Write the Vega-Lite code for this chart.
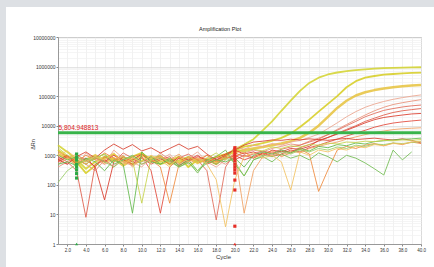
{
"$schema": "https://vega.github.io/schema/vega-lite/v6.json",
"background": "white",
"padding": 0,
"bounds": "flush",
"spacing": 0,
"config": {"view": {"stroke": null}, "font": "Liberation Sans", "axis": {"labelOverlap": false}},
"datasets": {
"curves": [
{"s":"A","c":1,"v":2200},{"s":"A","c":2,"v":1300},{"s":"A","c":3,"v":700},{"s":"A","c":4,"v":350},{"s":"A","c":5,"v":600},{"s":"A","c":6,"v":900},{"s":"A","c":7,"v":700},{"s":"A","c":8,"v":800},{"s":"A","c":9,"v":500},{"s":"A","c":10,"v":650},{"s":"A","c":11,"v":900},{"s":"A","c":12,"v":600},{"s":"A","c":13,"v":750},{"s":"A","c":14,"v":550},{"s":"A","c":15,"v":800},{"s":"A","c":16,"v":600},{"s":"A","c":17,"v":700},{"s":"A","c":18,"v":500},{"s":"A","c":19,"v":900},{"s":"A","c":20,"v":1600},{"s":"A","c":21,"v":2300},{"s":"A","c":22,"v":3500},{"s":"A","c":23,"v":7000},{"s":"A","c":24,"v":14000},{"s":"A","c":25,"v":32000},{"s":"A","c":26,"v":70000},{"s":"A","c":27,"v":150000},{"s":"A","c":28,"v":280000},{"s":"A","c":29,"v":420000},{"s":"A","c":30,"v":540000},{"s":"A","c":31,"v":630000},{"s":"A","c":32,"v":700000},{"s":"A","c":33,"v":760000},{"s":"A","c":34,"v":810000},{"s":"A","c":35,"v":850000},{"s":"A","c":36,"v":880000},{"s":"A","c":37,"v":900000},{"s":"A","c":38,"v":920000},{"s":"A","c":39,"v":935000},{"s":"A","c":40,"v":950000},
{"s":"B","c":1,"v":1500},{"s":"B","c":2,"v":900},{"s":"B","c":3,"v":600},{"s":"B","c":4,"v":250},{"s":"B","c":5,"v":450},{"s":"B","c":6,"v":800},{"s":"B","c":7,"v":1100},{"s":"B","c":8,"v":600},{"s":"B","c":9,"v":900},{"s":"B","c":10,"v":1200},{"s":"B","c":11,"v":700},{"s":"B","c":12,"v":500},{"s":"B","c":13,"v":650},{"s":"B","c":14,"v":900},{"s":"B","c":15,"v":400},{"s":"B","c":16,"v":700},{"s":"B","c":17,"v":600},{"s":"B","c":18,"v":900},{"s":"B","c":19,"v":1100},{"s":"B","c":20,"v":1500},{"s":"B","c":21,"v":1950},{"s":"B","c":22,"v":2200},{"s":"B","c":23,"v":2600},{"s":"B","c":24,"v":3100},{"s":"B","c":25,"v":3900},{"s":"B","c":26,"v":5400},{"s":"B","c":27,"v":9000},{"s":"B","c":28,"v":16000},{"s":"B","c":29,"v":30000},{"s":"B","c":30,"v":55000},{"s":"B","c":31,"v":100000},{"s":"B","c":32,"v":200000},{"s":"B","c":33,"v":320000},{"s":"B","c":34,"v":420000},{"s":"B","c":35,"v":480000},{"s":"B","c":36,"v":530000},{"s":"B","c":37,"v":560000},{"s":"B","c":38,"v":590000},{"s":"B","c":39,"v":610000},{"s":"B","c":40,"v":620000},
{"s":"C","c":1,"v":1100},{"s":"C","c":2,"v":800},{"s":"C","c":3,"v":500},{"s":"C","c":4,"v":700},{"s":"C","c":5,"v":1000},{"s":"C","c":6,"v":600},{"s":"C","c":7,"v":800},{"s":"C","c":8,"v":450},{"s":"C","c":9,"v":700},{"s":"C","c":10,"v":1000},{"s":"C","c":11,"v":750},{"s":"C","c":12,"v":900},{"s":"C","c":13,"v":500},{"s":"C","c":14,"v":650},{"s":"C","c":15,"v":850},{"s":"C","c":16,"v":550},{"s":"C","c":17,"v":750},{"s":"C","c":18,"v":600},{"s":"C","c":19,"v":1000},{"s":"C","c":20,"v":1300},{"s":"C","c":21,"v":1500},{"s":"C","c":22,"v":1700},{"s":"C","c":23,"v":1900},{"s":"C","c":24,"v":2200},{"s":"C","c":25,"v":2500},{"s":"C","c":26,"v":3000},{"s":"C","c":27,"v":3900},{"s":"C","c":28,"v":5800},{"s":"C","c":29,"v":10000},{"s":"C","c":30,"v":20000},{"s":"C","c":31,"v":40000},{"s":"C","c":32,"v":70000},{"s":"C","c":33,"v":105000},{"s":"C","c":34,"v":135000},{"s":"C","c":35,"v":160000},{"s":"C","c":36,"v":180000},{"s":"C","c":37,"v":200000},{"s":"C","c":38,"v":215000},{"s":"C","c":39,"v":230000},{"s":"C","c":40,"v":240000},
{"s":"D","c":1,"v":600},{"s":"D","c":2,"v":900},{"s":"D","c":3,"v":400},{"s":"D","c":4,"v":1200},{"s":"D","c":5,"v":700},{"s":"D","c":6,"v":500},{"s":"D","c":7,"v":1500},{"s":"D","c":8,"v":800},{"s":"D","c":9,"v":600},{"s":"D","c":10,"v":400},{"s":"D","c":11,"v":900},{"s":"D","c":12,"v":700},{"s":"D","c":13,"v":1100},{"s":"D","c":14,"v":500},{"s":"D","c":15,"v":800},{"s":"D","c":16,"v":1300},{"s":"D","c":17,"v":600},{"s":"D","c":18,"v":400},{"s":"D","c":19,"v":700},{"s":"D","c":20,"v":2000},{"s":"D","c":21,"v":1600},{"s":"D","c":22,"v":2200},{"s":"D","c":23,"v":2000},{"s":"D","c":24,"v":2500},{"s":"D","c":25,"v":2200},{"s":"D","c":26,"v":2800},{"s":"D","c":27,"v":3200},{"s":"D","c":28,"v":4000},{"s":"D","c":29,"v":5200},{"s":"D","c":30,"v":8000},{"s":"D","c":31,"v":12500},{"s":"D","c":32,"v":20000},{"s":"D","c":33,"v":30000},{"s":"D","c":34,"v":42000},{"s":"D","c":35,"v":54000},{"s":"D","c":36,"v":66000},{"s":"D","c":37,"v":78000},{"s":"D","c":38,"v":89000},{"s":"D","c":39,"v":100000},{"s":"D","c":40,"v":110000},
{"s":"E5","c":1,"v":400},{"s":"E5","c":2,"v":600},{"s":"E5","c":3,"v":900},{"s":"E5","c":4,"v":500},{"s":"E5","c":5,"v":300},{"s":"E5","c":6,"v":700},{"s":"E5","c":7,"v":1000},{"s":"E5","c":8,"v":600},{"s":"E5","c":9,"v":450},{"s":"E5","c":10,"v":800},{"s":"E5","c":11,"v":550},{"s":"E5","c":12,"v":1200},{"s":"E5","c":13,"v":700},{"s":"E5","c":14,"v":400},{"s":"E5","c":15,"v":900},{"s":"E5","c":16,"v":600},{"s":"E5","c":17,"v":1000},{"s":"E5","c":18,"v":700},{"s":"E5","c":19,"v":500},{"s":"E5","c":20,"v":900},{"s":"E5","c":21,"v":1200},{"s":"E5","c":22,"v":1500},{"s":"E5","c":23,"v":1300},{"s":"E5","c":24,"v":1700},{"s":"E5","c":25,"v":2000},{"s":"E5","c":26,"v":2400},{"s":"E5","c":27,"v":2200},{"s":"E5","c":28,"v":3000},{"s":"E5","c":29,"v":3800},{"s":"E5","c":30,"v":5000},{"s":"E5","c":31,"v":7500},{"s":"E5","c":32,"v":11000},{"s":"E5","c":33,"v":16000},{"s":"E5","c":34,"v":23000},{"s":"E5","c":35,"v":32000},{"s":"E5","c":36,"v":42000},{"s":"E5","c":37,"v":52000},{"s":"E5","c":38,"v":60000},{"s":"E5","c":39,"v":68000},{"s":"E5","c":40,"v":76000},
{"s":"E1","c":1,"v":800},{"s":"E1","c":2,"v":500},{"s":"E1","c":3,"v":1000},{"s":"E1","c":4,"v":700},{"s":"E1","c":5,"v":400},{"s":"E1","c":6,"v":900},{"s":"E1","c":7,"v":600},{"s":"E1","c":8,"v":1200},{"s":"E1","c":9,"v":800},{"s":"E1","c":10,"v":500},{"s":"E1","c":11,"v":700},{"s":"E1","c":12,"v":1000},{"s":"E1","c":13,"v":600},{"s":"E1","c":14,"v":800},{"s":"E1","c":15,"v":1100},{"s":"E1","c":16,"v":700},{"s":"E1","c":17,"v":300},{"s":"E1","c":18,"v":6.5},{"s":"E1","c":19,"v":400},{"s":"E1","c":20,"v":1200},{"s":"E1","c":21,"v":900},{"s":"E1","c":22,"v":1100},{"s":"E1","c":23,"v":1400},{"s":"E1","c":24,"v":1200},{"s":"E1","c":25,"v":1600},{"s":"E1","c":26,"v":1900},{"s":"E1","c":27,"v":2200},{"s":"E1","c":28,"v":2800},{"s":"E1","c":29,"v":3500},{"s":"E1","c":30,"v":5000},{"s":"E1","c":31,"v":7000},{"s":"E1","c":32,"v":10000},{"s":"E1","c":33,"v":14000},{"s":"E1","c":34,"v":20000},{"s":"E1","c":35,"v":26000},{"s":"E1","c":36,"v":33000},{"s":"E1","c":37,"v":38000},{"s":"E1","c":38,"v":43000},{"s":"E1","c":39,"v":47000},{"s":"E1","c":40,"v":50000},
{"s":"E6","c":1,"v":900},{"s":"E6","c":2,"v":600},{"s":"E6","c":3,"v":300},{"s":"E6","c":4,"v":8},{"s":"E6","c":5,"v":500},{"s":"E6","c":6,"v":700},{"s":"E6","c":7,"v":400},{"s":"E6","c":8,"v":900},{"s":"E6","c":9,"v":600},{"s":"E6","c":10,"v":800},{"s":"E6","c":11,"v":500},{"s":"E6","c":12,"v":700},{"s":"E6","c":13,"v":900},{"s":"E6","c":14,"v":450},{"s":"E6","c":15,"v":650},{"s":"E6","c":16,"v":800},{"s":"E6","c":17,"v":500},{"s":"E6","c":18,"v":700},{"s":"E6","c":19,"v":900},{"s":"E6","c":20,"v":700},{"s":"E6","c":21,"v":1000},{"s":"E6","c":22,"v":800},{"s":"E6","c":23,"v":1200},{"s":"E6","c":24,"v":1000},{"s":"E6","c":25,"v":1400},{"s":"E6","c":26,"v":1300},{"s":"E6","c":27,"v":1800},{"s":"E6","c":28,"v":2300},{"s":"E6","c":29,"v":3000},{"s":"E6","c":30,"v":4000},{"s":"E6","c":31,"v":5500},{"s":"E6","c":32,"v":7500},{"s":"E6","c":33,"v":10000},{"s":"E6","c":34,"v":14000},{"s":"E6","c":35,"v":18000},{"s":"E6","c":36,"v":23000},{"s":"E6","c":37,"v":28000},{"s":"E6","c":38,"v":32000},{"s":"E6","c":39,"v":35000},{"s":"E6","c":40,"v":38000},
{"s":"E2","c":1,"v":700},{"s":"E2","c":2,"v":1000},{"s":"E2","c":3,"v":500},{"s":"E2","c":4,"v":800},{"s":"E2","c":5,"v":400},{"s":"E2","c":6,"v":31},{"s":"E2","c":7,"v":600},{"s":"E2","c":8,"v":900},{"s":"E2","c":9,"v":700},{"s":"E2","c":10,"v":1100},{"s":"E2","c":11,"v":600},{"s":"E2","c":12,"v":800},{"s":"E2","c":13,"v":500},{"s":"E2","c":14,"v":900},{"s":"E2","c":15,"v":700},{"s":"E2","c":16,"v":1000},{"s":"E2","c":17,"v":600},{"s":"E2","c":18,"v":800},{"s":"E2","c":19,"v":1100},{"s":"E2","c":20,"v":1500},{"s":"E2","c":21,"v":1100},{"s":"E2","c":22,"v":1300},{"s":"E2","c":23,"v":1000},{"s":"E2","c":24,"v":1500},{"s":"E2","c":25,"v":1300},{"s":"E2","c":26,"v":1700},{"s":"E2","c":27,"v":1600},{"s":"E2","c":28,"v":2000},{"s":"E2","c":29,"v":3200},{"s":"E2","c":30,"v":4000},{"s":"E2","c":31,"v":5200},{"s":"E2","c":32,"v":7000},{"s":"E2","c":33,"v":9300},{"s":"E2","c":34,"v":12500},{"s":"E2","c":35,"v":16000},{"s":"E2","c":36,"v":19000},{"s":"E2","c":37,"v":21000},{"s":"E2","c":38,"v":23000},{"s":"E2","c":39,"v":25000},{"s":"E2","c":40,"v":26000},
{"s":"E3","c":1,"v":600},{"s":"E3","c":2,"v":900},{"s":"E3","c":3,"v":700},{"s":"E3","c":4,"v":500},{"s":"E3","c":5,"v":800},{"s":"E3","c":6,"v":600},{"s":"E3","c":7,"v":1000},{"s":"E3","c":8,"v":700},{"s":"E3","c":9,"v":500},{"s":"E3","c":10,"v":900},{"s":"E3","c":11,"v":300},{"s":"E3","c":12,"v":11},{"s":"E3","c":13,"v":400},{"s":"E3","c":14,"v":800},{"s":"E3","c":15,"v":600},{"s":"E3","c":16,"v":900},{"s":"E3","c":17,"v":700},{"s":"E3","c":18,"v":500},{"s":"E3","c":19,"v":800},{"s":"E3","c":20,"v":1000},{"s":"E3","c":21,"v":700},{"s":"E3","c":22,"v":900},{"s":"E3","c":23,"v":1200},{"s":"E3","c":24,"v":900},{"s":"E3","c":25,"v":1100},{"s":"E3","c":26,"v":1500},{"s":"E3","c":27,"v":1300},{"s":"E3","c":28,"v":1800},{"s":"E3","c":29,"v":2200},{"s":"E3","c":30,"v":2800},{"s":"E3","c":31,"v":3500},{"s":"E3","c":32,"v":4500},{"s":"E3","c":33,"v":5600},{"s":"E3","c":34,"v":7000},{"s":"E3","c":35,"v":8900},{"s":"E3","c":36,"v":10700},{"s":"E3","c":37,"v":12300},{"s":"E3","c":38,"v":13500},{"s":"E3","c":39,"v":14500},{"s":"E3","c":40,"v":15500},
{"s":"E4","c":1,"v":500},{"s":"E4","c":2,"v":800},{"s":"E4","c":3,"v":1100},{"s":"E4","c":4,"v":600},{"s":"E4","c":5,"v":900},{"s":"E4","c":6,"v":500},{"s":"E4","c":7,"v":700},{"s":"E4","c":8,"v":1000},{"s":"E4","c":9,"v":400},{"s":"E4","c":10,"v":800},{"s":"E4","c":11,"v":600},{"s":"E4","c":12,"v":900},{"s":"E4","c":13,"v":700},{"s":"E4","c":14,"v":1100},{"s":"E4","c":15,"v":500},{"s":"E4","c":16,"v":800},{"s":"E4","c":17,"v":600},{"s":"E4","c":18,"v":900},{"s":"E4","c":19,"v":700},{"s":"E4","c":20,"v":1200},{"s":"E4","c":21,"v":11},{"s":"E4","c":22,"v":300},{"s":"E4","c":23,"v":900},{"s":"E4","c":24,"v":1200},{"s":"E4","c":25,"v":1000},{"s":"E4","c":26,"v":1400},{"s":"E4","c":27,"v":1200},{"s":"E4","c":28,"v":1700},{"s":"E4","c":29,"v":2000},{"s":"E4","c":30,"v":2400},{"s":"E4","c":31,"v":2800},{"s":"E4","c":32,"v":3500},{"s":"E4","c":33,"v":4200},{"s":"E4","c":34,"v":5000},{"s":"E4","c":35,"v":5900},{"s":"E4","c":36,"v":6600},{"s":"E4","c":37,"v":7400},{"s":"E4","c":38,"v":7900},{"s":"E4","c":39,"v":8200},{"s":"E4","c":40,"v":8500},
{"s":"F","c":1,"v":700},{"s":"F","c":2,"v":500},{"s":"F","c":3,"v":900},{"s":"F","c":4,"v":1300},{"s":"F","c":5,"v":800},{"s":"F","c":6,"v":1500},{"s":"F","c":7,"v":2400},{"s":"F","c":8,"v":1600},{"s":"F","c":9,"v":2300},{"s":"F","c":10,"v":1400},{"s":"F","c":11,"v":1800},{"s":"F","c":12,"v":1200},{"s":"F","c":13,"v":1700},{"s":"F","c":14,"v":2400},{"s":"F","c":15,"v":1600},{"s":"F","c":16,"v":2000},{"s":"F","c":17,"v":1100},{"s":"F","c":18,"v":700},{"s":"F","c":19,"v":1000},{"s":"F","c":20,"v":1500},{"s":"F","c":21,"v":2200},{"s":"F","c":22,"v":2800},{"s":"F","c":23,"v":3000},{"s":"F","c":24,"v":3300},{"s":"F","c":25,"v":3200},{"s":"F","c":26,"v":3500},{"s":"F","c":27,"v":3300},{"s":"F","c":28,"v":3600},{"s":"F","c":29,"v":3400},{"s":"F","c":30,"v":3200},{"s":"F","c":31,"v":3500},{"s":"F","c":32,"v":3700},{"s":"F","c":33,"v":3400},{"s":"F","c":34,"v":3600},{"s":"F","c":35,"v":3800},{"s":"F","c":36,"v":3500},{"s":"F","c":37,"v":3300},{"s":"F","c":38,"v":3600},{"s":"F","c":39,"v":3200},{"s":"F","c":40,"v":2600},
{"s":"H","c":1,"v":1300},{"s":"H","c":2,"v":900},{"s":"H","c":3,"v":600},{"s":"H","c":4,"v":1000},{"s":"H","c":5,"v":700},{"s":"H","c":6,"v":1200},{"s":"H","c":7,"v":800},{"s":"H","c":8,"v":500},{"s":"H","c":9,"v":900},{"s":"H","c":10,"v":1100},{"s":"H","c":11,"v":700},{"s":"H","c":12,"v":400},{"s":"H","c":13,"v":24},{"s":"H","c":14,"v":500},{"s":"H","c":15,"v":900},{"s":"H","c":16,"v":700},{"s":"H","c":17,"v":1000},{"s":"H","c":18,"v":600},{"s":"H","c":19,"v":800},{"s":"H","c":20,"v":900},{"s":"H","c":21,"v":1300},{"s":"H","c":22,"v":800},{"s":"H","c":23,"v":1100},{"s":"H","c":24,"v":1400},{"s":"H","c":25,"v":900},{"s":"H","c":26,"v":1200},{"s":"H","c":27,"v":1600},{"s":"H","c":28,"v":1100},{"s":"H","c":29,"v":60},{"s":"H","c":30,"v":320},{"s":"H","c":31,"v":1500},{"s":"H","c":32,"v":2000},{"s":"H","c":33,"v":1700},{"s":"H","c":34,"v":2200},{"s":"H","c":35,"v":2500},{"s":"H","c":36,"v":2100},{"s":"H","c":37,"v":2600},{"s":"H","c":38,"v":2300},{"s":"H","c":39,"v":2800},{"s":"H","c":40,"v":2500},
{"s":"G1","c":1,"v":500},{"s":"G1","c":2,"v":600},{"s":"G1","c":3,"v":450},{"s":"G1","c":4,"v":800},{"s":"G1","c":5,"v":600},{"s":"G1","c":6,"v":300},{"s":"G1","c":7,"v":700},{"s":"G1","c":8,"v":500},{"s":"G1","c":9,"v":11},{"s":"G1","c":10,"v":1300},{"s":"G1","c":11,"v":600},{"s":"G1","c":12,"v":500},{"s":"G1","c":13,"v":800},{"s":"G1","c":14,"v":450},{"s":"G1","c":15,"v":700},{"s":"G1","c":16,"v":300},{"s":"G1","c":17,"v":550},{"s":"G1","c":18,"v":700},{"s":"G1","c":19,"v":600},{"s":"G1","c":20,"v":800},{"s":"G1","c":21,"v":400},{"s":"G1","c":22,"v":1000},{"s":"G1","c":23,"v":1300},{"s":"G1","c":24,"v":1100},{"s":"G1","c":25,"v":1500},{"s":"G1","c":26,"v":1200},{"s":"G1","c":27,"v":1700},{"s":"G1","c":28,"v":1400},{"s":"G1","c":29,"v":2000},{"s":"G1","c":30,"v":1800},{"s":"G1","c":31,"v":2300},{"s":"G1","c":32,"v":2100},{"s":"G1","c":33,"v":2600},{"s":"G1","c":34,"v":2400},{"s":"G1","c":35,"v":2900},{"s":"G1","c":36,"v":3100},{"s":"G1","c":37,"v":3300},{"s":"G1","c":38,"v":3500},{"s":"G1","c":39,"v":3600},{"s":"G1","c":40,"v":3800},
{"s":"G2","c":1,"v":120},{"s":"G2","c":2,"v":300},{"s":"G2","c":3,"v":500},{"s":"G2","c":4,"v":700},{"s":"G2","c":5,"v":900},{"s":"G2","c":6,"v":600},{"s":"G2","c":7,"v":400},{"s":"G2","c":8,"v":700},{"s":"G2","c":9,"v":900},{"s":"G2","c":10,"v":500},{"s":"G2","c":11,"v":700},{"s":"G2","c":12,"v":800},{"s":"G2","c":13,"v":600},{"s":"G2","c":14,"v":400},{"s":"G2","c":15,"v":550},{"s":"G2","c":16,"v":300},{"s":"G2","c":17,"v":700},{"s":"G2","c":18,"v":500},{"s":"G2","c":19,"v":800},{"s":"G2","c":20,"v":600},{"s":"G2","c":21,"v":200},{"s":"G2","c":22,"v":700},{"s":"G2","c":23,"v":1000},{"s":"G2","c":24,"v":900},{"s":"G2","c":25,"v":1300},{"s":"G2","c":26,"v":1100},{"s":"G2","c":27,"v":1500},{"s":"G2","c":28,"v":1300},{"s":"G2","c":29,"v":1700},{"s":"G2","c":30,"v":1500},{"s":"G2","c":31,"v":1900},{"s":"G2","c":32,"v":1700},{"s":"G2","c":33,"v":2200},{"s":"G2","c":34,"v":2000},{"s":"G2","c":35,"v":2400},{"s":"G2","c":36,"v":2300},{"s":"G2","c":37,"v":2600},{"s":"G2","c":38,"v":2500},{"s":"G2","c":39,"v":2700},{"s":"G2","c":40,"v":2900},
{"s":"G3","c":1,"v":1000},{"s":"G3","c":2,"v":700},{"s":"G3","c":3,"v":900},{"s":"G3","c":4,"v":600},{"s":"G3","c":5,"v":800},{"s":"G3","c":6,"v":1100},{"s":"G3","c":7,"v":500},{"s":"G3","c":8,"v":700},{"s":"G3","c":9,"v":1000},{"s":"G3","c":10,"v":600},{"s":"G3","c":11,"v":900},{"s":"G3","c":12,"v":500},{"s":"G3","c":13,"v":700},{"s":"G3","c":14,"v":400},{"s":"G3","c":15,"v":600},{"s":"G3","c":16,"v":250},{"s":"G3","c":17,"v":700},{"s":"G3","c":18,"v":900},{"s":"G3","c":19,"v":1500},{"s":"G3","c":20,"v":500},{"s":"G3","c":21,"v":200},{"s":"G3","c":22,"v":700},{"s":"G3","c":23,"v":900},{"s":"G3","c":24,"v":600},{"s":"G3","c":25,"v":1100},{"s":"G3","c":26,"v":800},{"s":"G3","c":27,"v":1000},{"s":"G3","c":28,"v":700},{"s":"G3","c":29,"v":1200},{"s":"G3","c":30,"v":900},{"s":"G3","c":31,"v":600},{"s":"G3","c":32,"v":1000},{"s":"G3","c":33,"v":800},{"s":"G3","c":34,"v":550},{"s":"G3","c":35,"v":350},{"s":"G3","c":36,"v":215},{"s":"G3","c":37,"v":1500},{"s":"G3","c":38,"v":700},{"s":"G3","c":39,"v":1300},
{"s":"Y2","c":1,"v":1800},{"s":"Y2","c":2,"v":1000},{"s":"Y2","c":3,"v":700},{"s":"Y2","c":4,"v":500},{"s":"Y2","c":5,"v":800},{"s":"Y2","c":6,"v":1100},{"s":"Y2","c":7,"v":600},{"s":"Y2","c":8,"v":900},{"s":"Y2","c":9,"v":700},{"s":"Y2","c":10,"v":24},{"s":"Y2","c":11,"v":800},{"s":"Y2","c":12,"v":1000},{"s":"Y2","c":13,"v":500},{"s":"Y2","c":14,"v":700},{"s":"Y2","c":15,"v":900},{"s":"Y2","c":16,"v":600},{"s":"Y2","c":17,"v":800},{"s":"Y2","c":18,"v":1200},{"s":"Y2","c":19,"v":700},{"s":"Y2","c":20,"v":1700},{"s":"Y2","c":21,"v":1300},{"s":"Y2","c":22,"v":1600},{"s":"Y2","c":23,"v":1400},{"s":"Y2","c":24,"v":1900},{"s":"Y2","c":25,"v":1700},{"s":"Y2","c":26,"v":2100},{"s":"Y2","c":27,"v":1900},{"s":"Y2","c":28,"v":2300},{"s":"Y2","c":29,"v":2200},{"s":"Y2","c":30,"v":2600},{"s":"Y2","c":31,"v":2400},{"s":"Y2","c":32,"v":2800},{"s":"Y2","c":33,"v":2700},{"s":"Y2","c":34,"v":3000},{"s":"Y2","c":35,"v":2900},{"s":"Y2","c":36,"v":3200},{"s":"Y2","c":37,"v":3100},{"s":"Y2","c":38,"v":3300},{"s":"Y2","c":39,"v":3200},{"s":"Y2","c":40,"v":3400},
{"s":"O2","c":1,"v":1000},{"s":"O2","c":2,"v":1400},{"s":"O2","c":3,"v":800},{"s":"O2","c":4,"v":600},{"s":"O2","c":5,"v":900},{"s":"O2","c":6,"v":700},{"s":"O2","c":7,"v":1200},{"s":"O2","c":8,"v":500},{"s":"O2","c":9,"v":800},{"s":"O2","c":10,"v":600},{"s":"O2","c":11,"v":1000},{"s":"O2","c":12,"v":700},{"s":"O2","c":13,"v":400},{"s":"O2","c":14,"v":900},{"s":"O2","c":15,"v":600},{"s":"O2","c":16,"v":800},{"s":"O2","c":17,"v":500},{"s":"O2","c":18,"v":150},{"s":"O2","c":19,"v":3.8},{"s":"O2","c":20,"v":150},{"s":"O2","c":21,"v":900},{"s":"O2","c":22,"v":1200},{"s":"O2","c":23,"v":800},{"s":"O2","c":24,"v":1000},{"s":"O2","c":25,"v":600},{"s":"O2","c":26,"v":67},{"s":"O2","c":27,"v":1300},{"s":"O2","c":28,"v":1000},{"s":"O2","c":29,"v":1500},{"s":"O2","c":30,"v":1300},{"s":"O2","c":31,"v":1700},{"s":"O2","c":32,"v":1500},{"s":"O2","c":33,"v":2000},{"s":"O2","c":34,"v":1800},{"s":"O2","c":35,"v":2300},{"s":"O2","c":36,"v":2100},{"s":"O2","c":37,"v":2500},{"s":"O2","c":38,"v":2400},{"s":"O2","c":39,"v":2800},{"s":"O2","c":40,"v":3000}
]
},
"vconcat": [
{"width": 434, "height": 7, "data": {"values": [{}]}, "mark": {"type": "point", "opacity": 0}, "view": {"fill": "#dde0e4", "stroke": null}},
{"hconcat": [
 {"width": 6, "height": 267, "data": {"values": [{}]}, "mark": {"type": "point", "opacity": 0}, "view": {"fill": "#dde0e4", "stroke": null}},
 {
  "width": 363, "height": 207,
  "view": {"stroke": "#b4b4b4", "strokeWidth": 1, "fill": "white"},
  "title": {"text": "Amplification Plot", "fontSize": 5.5, "fontWeight": "normal", "color": "#222", "anchor": "start", "frame": "group", "dx": 141, "offset": 2.5},
  "layer": [
   {
    "data": {"name": "curves"},
    "mark": {"type": "line", "opacity": 0.85, "strokeJoin": "round"},
    "encoding": {
     "x": {"field": "c", "type": "quantitative", "scale": {"domain": [1, 40], "nice": false, "zero": false},
      "axis": {"values": [1,2,3,4,5,6,7,8,9,10,11,12,13,14,15,16,17,18,19,20,21,22,23,24,25,26,27,28,29,30,31,32,33,34,35,36,37,38,39,40],
       "tickCount": 100, "labelOverlap": false, "labelFlush": false,
       "labelExpr": "indexof([2,4,6,8,10,12,14,16,18,20,22,24,26,28,30,32,34,36,38,40], datum.value) >= 0 ? datum.label : ''",
       "labelFontSize": 4.5, "labelColor": "#333", "labelPadding": 1, "tickSize": 2,
       "tickColor": {"condition": {"test": "indexof([2,4,6,8,10,12,14,16,18,20,22,24,26,28,30,32,34,36,38,40], datum.value) >= 0", "value": "#888"}, "value": "transparent"},
       "domainColor": "#999", "grid": true, "gridColor": "#ebebeb", "gridWidth": 0.7,
       "title": "Cycle", "titleFontSize": 6, "titleFontWeight": "normal", "titleColor": "#333", "titleX": 165, "titlePadding": 2}},
     "y": {"field": "v", "type": "quantitative", "scale": {"type": "log", "domain": [1, 10000000], "nice": false},
      "axis": {"values": [1,2,3,4,5,6,7,8,9,10,20,30,40,50,60,70,80,90,100,200,300,400,500,600,700,800,900,1000,2000,3000,4000,5000,6000,7000,8000,9000,10000,20000,30000,40000,50000,60000,70000,80000,90000,100000,200000,300000,400000,500000,600000,700000,800000,900000,1000000,2000000,3000000,4000000,5000000,6000000,7000000,8000000,9000000,10000000],
       "tickCount": 100, "format": "d", "labelOverlap": false,
       "labelExpr": "indexof([1,10,100,1000,10000,100000,1000000,10000000], datum.value) >= 0 ? datum.label : ''",
       "labelFontSize": 5, "labelColor": "#333", "labelPadding": 1, "tickSize": 2,
       "tickColor": {"condition": {"test": "indexof([1,10,100,1000,10000,100000,1000000,10000000], datum.value) >= 0", "value": "#888"}, "value": "transparent"},
       "grid": true, "gridColor": {"condition": {"test": "indexof([1,10,100,1000,10000,100000,1000000,10000000], datum.value) >= 0", "value": "#d8d8d8"}, "value": "#f0f0f0"},
       "gridWidth": 0.7, "domainColor": "#999",
       "title": "ΔRn", "titleFontSize": 5.5, "titleFontWeight": "normal", "titleColor": "#333", "titleX": -23, "titleY": 107}},
     "color": {"field": "s", "type": "nominal", "legend": null,
      "scale": {"domain": ["G1","G2","G3","Y2","O2","H","E4","F","E3","E2","E6","E1","E5","D","C","B","A"],
                "range": ["#62b84a","#98cc66","#72bc52","#c6d24a","#f2c262","#ee8a3c","#f0a062","#d8402e","#e2483a","#d93a2a","#de5a48","#e06a58","#e88f78","#eba58e","#e6c23c","#d6cc1e","#d2d22c"]}},
     "strokeWidth": {"condition": [{"test": "datum.s == 'C'", "value": 2.5}, {"test": "datum.s == 'A' || datum.s == 'B'", "value": 1.8}], "value": 1}
    }
   },
   {
    "data": {"values": [{"v": 5804.948813}]},
    "mark": {"type": "rule", "color": "#38b44a", "strokeWidth": 3},
    "encoding": {"y": {"field": "v", "type": "quantitative"}}
   },
   {
    "data": {"values": [{"c": 1, "v": 5804.948813, "label": "5,804.948813"}]},
    "mark": {"type": "text", "align": "left", "baseline": "bottom", "dx": 0.5, "dy": -1.5, "fontSize": 6.5, "color": "#e0221c"},
    "encoding": {"x": {"field": "c", "type": "quantitative"}, "y": {"field": "v", "type": "quantitative"}, "text": {"field": "label"}}
   },
   {
    "data": {"values": [
     {"c": 3, "v": 1100, "g": "g", "k": "box"},{"c": 3, "v": 850, "g": "g", "k": "box"},{"c": 3, "v": 690, "g": "g", "k": "box"},{"c": 3, "v": 500, "g": "g", "k": "box"},{"c": 3, "v": 400, "g": "g", "k": "box"},{"c": 3, "v": 320, "g": "g", "k": "box"},{"c": 3, "v": 240, "g": "g", "k": "box"},{"c": 3, "v": 170, "g": "g", "k": "box"},
     {"c": 20, "v": 1800, "g": "r", "k": "box"},{"c": 20, "v": 1500, "g": "r", "k": "box"},{"c": 20, "v": 1250, "g": "r", "k": "box"},{"c": 20, "v": 1000, "g": "r", "k": "box"},{"c": 20, "v": 800, "g": "r", "k": "box"},{"c": 20, "v": 650, "g": "r", "k": "box"},{"c": 20, "v": 500, "g": "r", "k": "box"},{"c": 20, "v": 400, "g": "r", "k": "box"},{"c": 20, "v": 320, "g": "r", "k": "box"},{"c": 20, "v": 250, "g": "r", "k": "box"},{"c": 20, "v": 145, "g": "r", "k": "box"},{"c": 20, "v": 67, "g": "r", "k": "box"},{"c": 20, "v": 4, "g": "r", "k": "box"},
     {"c": 3, "v": 1, "g": "g", "k": "tip"},{"c": 20, "v": 1, "g": "r", "k": "tip"}
    ]},
    "mark": {"type": "point", "filled": true, "size": 10, "opacity": 1},
    "encoding": {
     "x": {"field": "c", "type": "quantitative"},
     "y": {"field": "v", "type": "quantitative"},
     "fill": {"field": "g", "type": "nominal", "legend": null, "scale": {"domain": ["g", "r"], "range": ["#2aa844", "#e62e26"]}},
     "shape": {"field": "k", "type": "nominal", "legend": null, "scale": {"domain": ["box", "tip"], "range": ["square", "triangle-up"]}}
    }
   }
  ]
 }
], "spacing": 52, "bounds": "flush", "center": true}
]
}
